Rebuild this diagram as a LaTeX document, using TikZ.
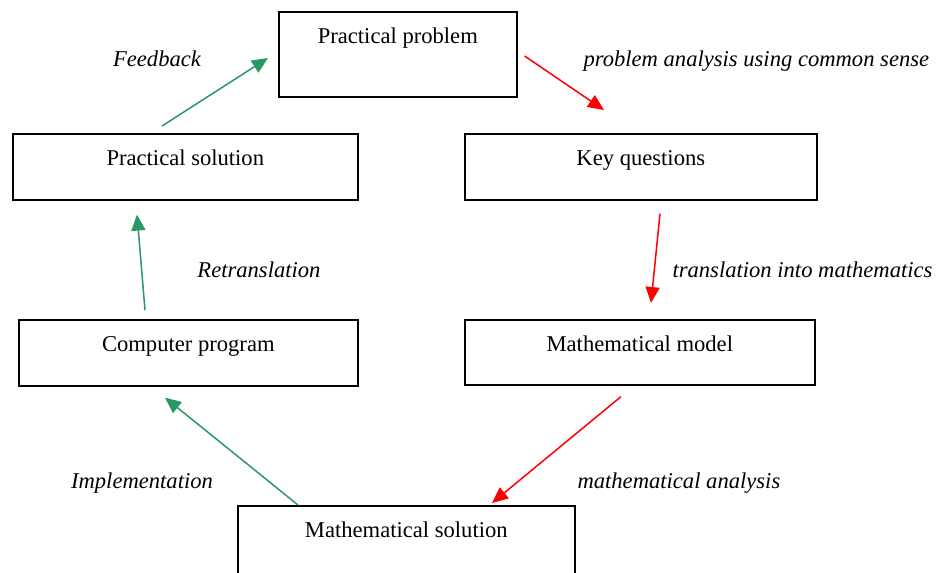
\documentclass[tikz,border=0pt]{standalone}
\usepackage{fontspec}
\setmainfont{Liberation Serif}
\usetikzlibrary{arrows.meta,calc}
\definecolor{fbgreen}{RGB}{40,152,100}
\newcommand{\bigtxt}{\fontsize{22.6}{27}\selectfont}
\tikzset{
box/.style={draw, line width=1.6pt, anchor=north west, inner sep=0pt,
  minimum width=#1, text height=32pt, font=\bigtxt},
lab/.style={font=\bigtxt\itshape},
redarr/.style={draw=red, line width=1.5pt, -{Triangle[length=16pt,width=14pt]}, red},
greenarr/.style={draw=fbgreen, line width=1.5pt, -{Triangle[length=16pt,width=14pt]}, fbgreen}
}

\begin{document}
\begin{tikzpicture}[x=1pt,y=-1pt]
  \useasboundingbox (0,0) rectangle (938,573);
  \node[box=238pt, text depth=53pt] (pp) at (278,11) {Practical problem};
  \node[box=352pt, text depth=34pt] (kq) at (464,133) {Key questions};
  \node[box=345pt, text depth=34pt] (ps) at (12,133) {Practical solution};
  \node[box=339pt, text depth=34pt] (cp) at (18,319) {Computer program};
  \node[box=350pt, text depth=33pt] (mm) at (464,319) {Mathematical model};
  \node[box=337pt, text depth=60pt] (ms) at (237,505) {Mathematical solution};

  \node[lab, anchor=base] (fb) at (157,66) {Feedback};
  \node[lab, anchor=base west] (pa) at (580,66) {problem analysis using common sense};
  \node[lab, anchor=base] (rt) at (259,277) {Retranslation};
  \node[lab, anchor=base west] (tm) at (669,277) {translation into mathematics};
  \node[lab, anchor=base] (im) at (142,488) {Implementation};
  \node[lab, anchor=base west] (ma) at (574,488) {mathematical analysis};

  \draw[redarr] ($(pp.north east)+(7,45)$) -- ($(kq.north west)+(140,-23)$);
  \draw[redarr] ($(kq.south west)+(196,13)$) -- ($(mm.north west)+(187,-16)$);
  \draw[redarr] ($(mm.south west)+(157,11)$) -- ($(ms.north west)+(255,-2)$);
  \draw[greenarr] ($(ms.north west)+(61,0)$) -- ($(cp.south west)+(147,11)$);
  \draw[greenarr] ($(cp.north west)+(127,-9)$) -- ($(ps.south west)+(125,14)$);
  \draw[greenarr] ($(ps.north west)+(150,-7)$) -- ($(pp.north west)+(-10,47)$);
\end{tikzpicture}
\end{document}
